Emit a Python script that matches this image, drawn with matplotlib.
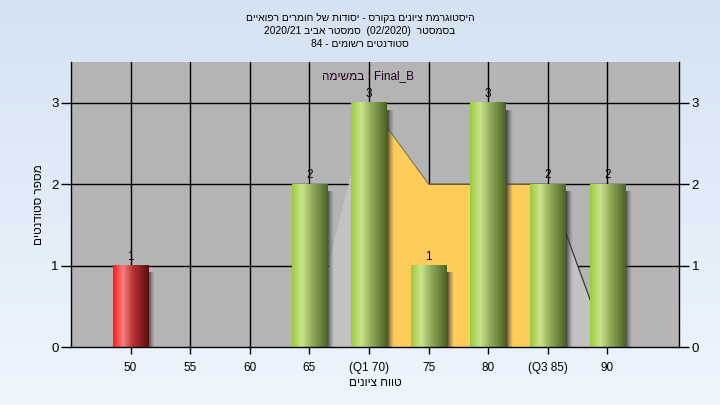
import numpy as np
import matplotlib
matplotlib.use("Agg")
import matplotlib.pyplot as plt
from matplotlib.colors import LinearSegmentedColormap

plt.rcParams['font.family'] = ['Liberation Sans', 'DejaVu Sans']

# ---- data ----
categories = ['50', '55', '60', '65', '(Q1 70)', '75', '80', '(Q3 85)', '90']
counts = [1, 0, 0, 2, 3, 1, 3, 2, 2]
fail_flags = [True, False, False, False, False, False, False, False, False]
# distribution outline (category index, value)
curve_x_side_left = [3, 4]
curve_y_side_left = [0, 3]
curve_x_iqr = [4, 5, 6, 7]
curve_y_iqr = [3, 2, 2, 2]
curve_x_side_right = [7, 8]
curve_y_side_right = [2, 0]
y_ticks = [0, 1, 2, 3]

title_lines = ["היסטוגרמת ציונים בקורס - יסודות של חומרים רפואיים",
               "בסמסטר  (02/2020)  סמסטר אביב 2020/21",
               "סטודנטים רשומים - 84"]
task_label = "במשימה : Final_B"
xlabel = "טווח ציונים"
ylabel = "מספר סטודנטים"


def is_heb(w):
    return any('\u0590' <= c <= '\u05ff' for c in w)


def rtl(s):
    # matplotlib has no bidi: lay out a right-to-left line in visual order
    return ' '.join(w[::-1] if is_heb(w) else w for w in reversed(s.split(' ')))


def ltr_mixed(s):
    # left-to-right base line with Hebrew words inside
    return ' '.join(w[::-1] if is_heb(w) else w for w in s.split(' '))


W, H = 720, 405
fig = plt.figure(figsize=(W / 100, H / 100), dpi=100)

# background gradient
bg = fig.add_axes([0, 0, 1, 1], zorder=-10)
grad = np.linspace(0, 1, 256).reshape(-1, 1)
bg_cmap = LinearSegmentedColormap.from_list('bg', ['#d4e2f3', '#eef6fd'])
bg.imshow(grad, aspect='auto', cmap=bg_cmap, extent=[0, 1, 0, 1], origin='upper')
bg.axis('off')

L, R, T, B = 71, 679, 62, 347
ax = fig.add_axes([L / W, (H - B) / H, (R - L) / W, (B - T) / H])
ax.set_facecolor('#b4b4b4')
x = np.arange(len(categories))

# grid
for xi in x:
    ax.axvline(xi, color='black', lw=1.0, zorder=0.5)
for yi in y_ticks[1:]:
    ax.axhline(yi, color='black', lw=1.0, zorder=0.5)

# distribution areas
ax.fill_between(curve_x_side_left, 0, curve_y_side_left, color='#c2c2c2', zorder=1, lw=0)
ax.fill_between(curve_x_side_right, 0, curve_y_side_right, color='#c2c2c2', zorder=1, lw=0)
ax.fill_between(curve_x_iqr, 0, curve_y_iqr, color='#fecc58', zorder=1.1, lw=0)
ax.plot(curve_x_iqr, curve_y_iqr, color='#7a6a40', lw=0.7, zorder=1.2)
ax.plot(curve_x_side_right, curve_y_side_right, color='#3a3a3a', lw=0.9, zorder=1.2)
ax.plot(curve_x_side_left, curve_y_side_left, color='#cfcfcf', lw=0.6, zorder=1.2)

# bars with cylinder gradient
green_cmap = LinearSegmentedColormap.from_list(
    'g', [(0, '#9ccb3c'), (0.28, '#cce48e'), (0.55, '#94ae5c'), (1, '#4a6420')])
red_cmap = LinearSegmentedColormap.from_list(
    'r', [(0, '#ff1a1a'), (0.28, '#f48282'), (0.55, '#b83434'), (1, '#5e0b0b')])
shadow_cmap = LinearSegmentedColormap.from_list(
    's', [(0, (0.15, 0.15, 0.15, 0.85)), (1, (0.4, 0.4, 0.4, 0.0))])
hgrad = np.linspace(0, 1, 128).reshape(1, -1)

bars = ax.bar(x, counts, width=0.6, color='none', edgecolor='none', zorder=2)
for rect, c, fail in zip(bars, counts, fail_flags):
    if c <= 0:
        continue
    x0, w, h = rect.get_x(), rect.get_width(), rect.get_height()
    ax.imshow(hgrad, aspect='auto', cmap=shadow_cmap,
              extent=[x0 + w, x0 + w + 0.11, 0, h - 0.09], zorder=1.8,
              interpolation='bilinear')
    ax.imshow(hgrad, aspect='auto', cmap=red_cmap if fail else green_cmap,
              extent=[x0, x0 + w, 0, h], zorder=2, interpolation='bilinear')
    ax.annotate(str(c), (x0 + w / 2, h), xytext=(0, 2), textcoords='offset points',
                ha='center', va='bottom', fontsize=8.5, zorder=4)
ax.set_xlim(-1.0, 9.2)
ax.set_ylim(0, 3.5)

ax.text(0.488, 0.951, ltr_mixed(task_label), transform=ax.transAxes, ha='center',
        va='center', fontsize=8.5, color='#200020', zorder=5)

# axes styling
ax.set_xticks(x)
ax.set_xticklabels(categories, fontsize=8.5)
ax.set_yticks(y_ticks)
ax.tick_params(axis='y', labelsize=9.5, length=7, width=1, direction='out',
               left=True, right=True, labelleft=True, labelright=True, pad=2)
ax.tick_params(axis='x', length=5, width=1, direction='out', pad=6)
for s in ['left', 'right', 'bottom']:
    ax.spines[s].set_color('black')
    ax.spines[s].set_linewidth(1.0)
ax.spines['top'].set_visible(False)

ax.set_xlabel(rtl(xlabel), fontsize=8.5, labelpad=2)
ax.set_ylabel(rtl(ylabel), fontsize=8.5, labelpad=4)

for i, line in enumerate(title_lines):
    fig.text(0.5, 1 - (18 + 13 * i) / H, rtl(line), ha='center', va='center',
             fontsize=7.4, color='black')

fig.savefig('out.png', dpi=100)
